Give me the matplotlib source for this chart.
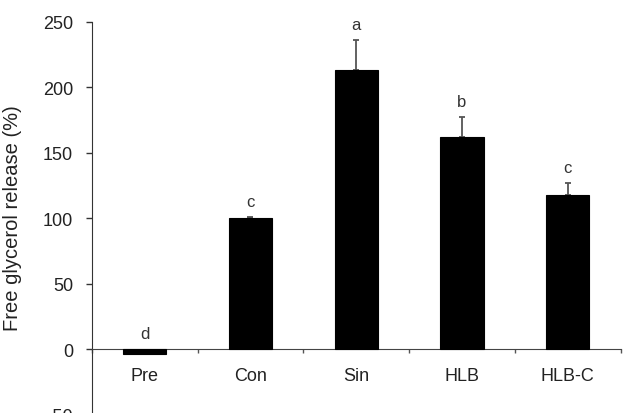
import matplotlib
matplotlib.use("Agg")
import matplotlib.pyplot as plt
import numpy as np

categories = ["Pre", "Con", "Sin", "HLB", "HLB-C"]
values = [-4, 100, 213, 162, 118]
errors = [0, 1, 23, 15, 9]
letters = ["d", "c", "a", "b", "c"]
yticks = [-50, 0, 50, 100, 150, 200, 250]

plt.rcParams['font.family'] = ['Liberation Sans', 'DejaVu Sans']

fig = plt.figure(figsize=(6.3, 4.14), dpi=100)
ax = fig.add_axes([91.7/630, 1 - 415.5/414, (620.7 - 91.7)/630, (415.5 - 22.7)/414])

x = np.arange(len(categories))
ax.bar(x, values, width=0.41, color='black', edgecolor='black', linewidth=0.8, zorder=3)
ax.errorbar(x, values, yerr=[np.zeros(len(errors)), errors], fmt='none',
            ecolor='#555555', elinewidth=1.3, capsize=2.2, capthick=1.3, zorder=2)

for xi, v, e, lab in zip(x, values, errors, letters):
    top = max(v + e, 0)
    ax.annotate(lab, (xi, top), xytext=(0, 8), textcoords='offset points',
                ha='center', va='baseline', fontsize=12, color='#333333')

ax.set_xlim(-0.5, len(categories) - 0.5)
ax.set_ylim(-50, 250)
ax.set_yticks(yticks)
ax.tick_params(axis='y', direction='out', length=4.5, width=1, pad=9,
               labelsize=13, colors='#333333', labelcolor='#222222')

ax.set_xticks(np.arange(len(categories) + 1) - 0.5)
ax.set_xticklabels([])
ax.tick_params(axis='x', which='major', direction='out', length=3, width=1, colors='#555555')
ax.set_xticks(x, minor=True)
ax.set_xticklabels(categories, minor=True)
ax.tick_params(axis='x', which='minor', length=0, pad=13, labelsize=13, labelcolor='#222222')

ax.spines['top'].set_visible(False)
ax.spines['right'].set_visible(False)
ax.spines['bottom'].set_position(('data', 0))
ax.spines['bottom'].set_color('#444444')
ax.spines['left'].set_color('#333333')

ax.set_ylabel("Free glycerol release (%)", fontsize=14.5, color='#222222')
ax.yaxis.set_label_coords(-0.132, 0.503)

fig.savefig("out.png", dpi=100)
